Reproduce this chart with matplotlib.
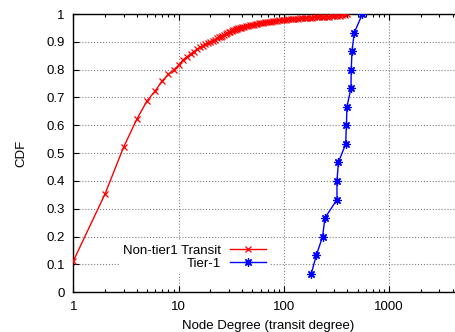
"""CDF of node (transit) degree: non-tier1 transit ASes vs tier-1 ASes."""

import matplotlib
matplotlib.use("Agg")
import matplotlib.pyplot as plt
from matplotlib.ticker import FixedLocator, LogLocator, NullFormatter

plt.rcParams["font.family"] = ["Liberation Sans", "DejaVu Sans"]
FONT = 9.5

# ── data ──────────────────────────────────────────────────────────────────────

nontier1_degree = [1, 2, 3, 4, 5, 6, 7, 8, 9, 10, 11, 12, 13, 14, 15, 16, 17, 18,
                   19, 20, 21, 22, 23, 24, 25, 26, 27, 28, 29, 30, 31, 32, 33, 34,
                   35, 36, 37, 38, 39, 40, 42, 44, 46, 48, 50, 52, 54, 56, 58, 60,
                   63, 66, 69, 72, 75, 78, 82, 86, 90, 95, 100, 105, 110, 116,
                   122, 128, 135, 142, 150, 158, 166, 175, 185, 195, 205, 215,
                   228, 240, 255, 270, 285, 300, 320, 340, 360, 378, 395]
nontier1_cdf = [0.112, 0.353, 0.521, 0.621, 0.687, 0.724, 0.760, 0.783, 0.799,
                0.816, 0.835, 0.846, 0.857, 0.865, 0.874, 0.880, 0.886, 0.891,
                0.896, 0.900, 0.904, 0.908, 0.912, 0.916, 0.919, 0.922, 0.925,
                0.928, 0.931, 0.934, 0.936, 0.939, 0.941, 0.943, 0.945, 0.947,
                0.948, 0.950, 0.951, 0.953, 0.954, 0.956, 0.958, 0.960, 0.961,
                0.962, 0.964, 0.965, 0.966, 0.967, 0.969, 0.970, 0.971, 0.972,
                0.973, 0.974, 0.975, 0.976, 0.977, 0.978, 0.979, 0.980, 0.981,
                0.981, 0.982, 0.983, 0.983, 0.984, 0.985, 0.985, 0.986, 0.987,
                0.987, 0.988, 0.988, 0.989, 0.989, 0.990, 0.990, 0.991, 0.992,
                0.992, 0.993, 0.994, 0.995, 0.997, 1.000]

tier1_degree = [182, 203, 233, 245, 319, 319, 329, 386, 392, 397, 433, 436, 443,
                466, 556]
tier1_cdf = [0.067, 0.133, 0.200, 0.267, 0.333, 0.400, 0.467, 0.533, 0.600,
             0.667, 0.733, 0.800, 0.867, 0.933, 1.000]

y_ticks = [0, 0.1, 0.2, 0.3, 0.4, 0.5, 0.6, 0.7, 0.8, 0.9, 1]
y_tick_labels = ["0", "0.1", "0.2", "0.3", "0.4", "0.5", "0.6", "0.7", "0.8",
                 "0.9", "1"]
x_ticks = [1, 10, 100, 1000]
x_tick_labels = ["1", "10", "100", "1000"]

# ── plot ──────────────────────────────────────────────────────────────────────

fig = plt.figure(figsize=(4.56, 3.32), dpi=100)
# right border of the gnuplot frame falls just outside the image
ax = fig.add_axes([0.1607, 0.1196, 0.8543, 0.8382])

ax.plot(nontier1_degree, nontier1_cdf, color="#ff0000", lw=1.0,
        marker="x", markersize=5, markeredgewidth=0.9,
        label="Non-tier1 Transit", zorder=3)
ax.plot(tier1_degree, tier1_cdf, color="#0000ff", lw=1.0,
        marker=(8, 2, 0), markersize=6, markeredgewidth=0.9,
        label="Tier-1", zorder=3)

ax.set_xscale("log")
ax.set_xlim(1, 5000)
ax.set_ylim(0, 1)

ax.xaxis.set_major_locator(FixedLocator(x_ticks))
ax.set_xticklabels(x_tick_labels, fontsize=FONT)
ax.xaxis.set_minor_locator(LogLocator(base=10, subs=range(2, 10)))
ax.xaxis.set_minor_formatter(NullFormatter())
ax.set_yticks(y_ticks)
ax.set_yticklabels(y_tick_labels, fontsize=FONT)

ax.tick_params(axis="x", which="major", direction="in", length=4, width=0.8,
               top=True, pad=6)
ax.tick_params(axis="x", which="minor", direction="in", length=2, width=0.8,
               top=True)
ax.tick_params(axis="y", direction="in", length=4, width=0.8, pad=6)

ax.grid(True, which="major", linestyle=":", color="0.5", linewidth=0.8)
ax.set_axisbelow(True)

for side in ("left", "top", "bottom"):
    ax.spines[side].set_linewidth(1.0)
ax.spines["right"].set_visible(False)

ax.set_xlabel("Node Degree (transit degree)", fontsize=FONT, labelpad=5.5)
ax.set_ylabel("CDF", fontsize=FONT, labelpad=14)

leg = ax.legend(loc="center right", bbox_to_anchor=(0.505, 0.127),
                markerfirst=False, fontsize=FONT, handlelength=2.7,
                handletextpad=0.7, labelspacing=0.05, borderpad=0.3,
                borderaxespad=0, frameon=True, fancybox=False)
leg.get_frame().set_edgecolor("none")
leg.get_frame().set_facecolor("white")
leg.get_frame().set_alpha(1.0)

fig.savefig("out.png", dpi=100)
plt.close(fig)
